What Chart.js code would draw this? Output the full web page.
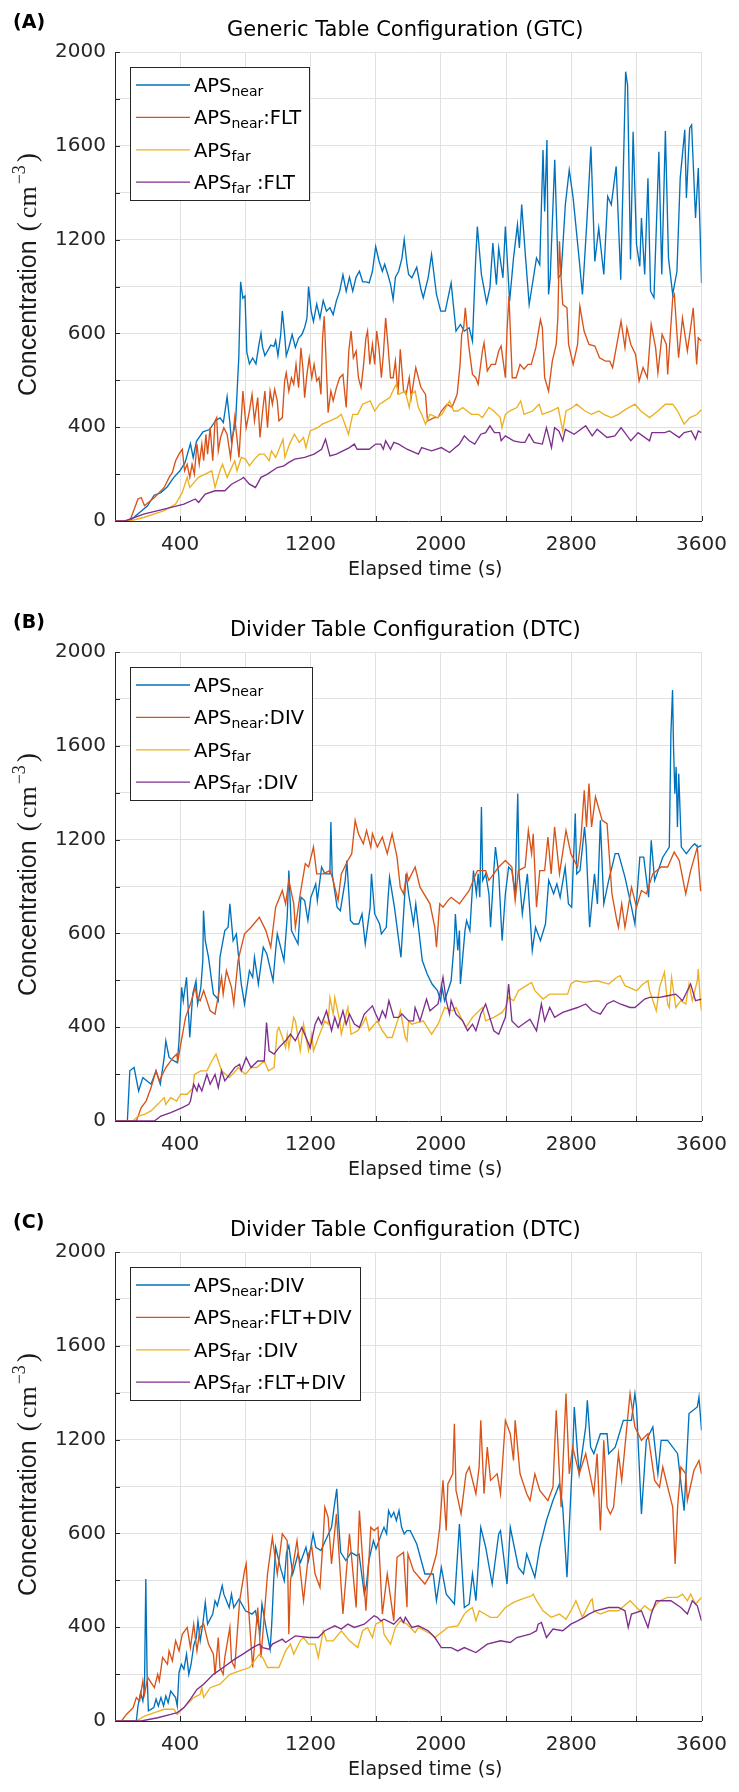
<!DOCTYPE html>
<html>
<head>
<meta charset="utf-8">
<script src="https://cdn.jsdelivr.net/npm/chart.js@4.4.1/dist/chart.umd.min.js"></script>
<style>
html,body{margin:0;padding:0;background:#ffffff;}
body{width:739px;height:1792px;overflow:hidden;}
canvas{display:block;}
</style>
</head>
<body>
<canvas id="panelA" width="739" height="600" style="width:739px;height:600px"></canvas>
<canvas id="panelB" width="739" height="600" style="width:739px;height:600px"></canvas>
<canvas id="panelC" width="739" height="592" style="width:739px;height:592px"></canvas>
<script>
// ---------- axes / labels ----------
const xTickValues = [400, 1200, 2000, 2800, 3600];
const xTickLabels = ['400', '1200', '2000', '2800', '3600'];
const yTickValues = [0, 400, 800, 1200, 1600, 2000];
const yTickLabels = ['0', '400', '600', '1200', '1600', '2000'];
const xAxisTitle = 'Elapsed time (s)';
const yAxisTitle = 'Concentration';
const yAxisUnit = ['(', 'cm', '\u22123', ')'];
const seriesColors = ['#0072BD', '#D95319', '#EDB120', '#7E2F8E'];
const panelTags = ['(A)', '(B)', '(C)'];
const panelTitles = ['Generic Table Configuration (GTC)', 'Divider Table Configuration (DTC)', 'Divider Table Configuration (DTC)'];
const legendA = ['APS_{near}', 'APS_{near}:FLT', 'APS_{far}', 'APS_{far} :FLT'];
const legendB = ['APS_{near}', 'APS_{near}:DIV', 'APS_{far}', 'APS_{far} :DIV'];
const legendC = ['APS_{near}:DIV', 'APS_{near}:FLT+DIV', 'APS_{far} :DIV', 'APS_{far} :FLT+DIV'];

// ---------- data: [elapsed time (s), concentration] ----------
// Panel A (GTC)
const aNear = [[0,0],[90,0],[140,30],[200,65],[240,110],[280,120],[320,145],[360,185],[400,215],[430,250],[463,330],[480,270],[500,340],[540,380],[580,390],[620,430],[645,440],[665,420],[688,530],[705,420],[715,340],[740,420],[760,700],[771,1020],[785,950],[798,960],[809,720],[825,670],[845,695],[865,670],[883,750],[896,800],[905,745],[920,705],[936,725],[956,750],[976,745],[986,770],[1000,705],[1017,795],[1027,895],[1041,795],[1051,705],[1067,740],[1087,795],[1107,740],[1127,780],[1147,795],[1164,825],[1178,865],[1188,1000],[1204,895],[1218,850],[1238,925],[1258,865],[1278,940],[1298,895],[1319,910],[1339,880],[1359,940],[1379,980],[1399,1050],[1419,980],[1439,1040],[1459,980],[1480,1040],[1500,1065],[1520,1020],[1540,1020],[1560,1015],[1580,1065],[1600,1170],[1620,1110],[1641,1065],[1655,1095],[1675,1050],[1691,1010],[1707,945],[1721,1040],[1741,1065],[1761,1120],[1775,1200],[1792,1095],[1802,1051],[1822,1037],[1852,1082],[1878,987],[1892,952],[1922,1037],[1943,1136],[1973,966],[1999,895],[2027,895],[2063,1015],[2093,810],[2120,838],[2144,810],[2174,824],[2194,767],[2214,1122],[2224,1256],[2249,1051],[2281,930],[2301,994],[2319,1185],[2341,1008],[2355,1164],[2381,1037],[2396,1256],[2422,937],[2446,1122],[2470,1263],[2482,1164],[2496,1349],[2520,1122],[2542,923],[2587,1122],[2607,1093],[2627,1582],[2637,1320],[2651,1625],[2661,966],[2671,1037],[2699,1540],[2721,1037],[2738,1051],[2764,1349],[2788,1497],[2812,1377],[2848,1122],[2869,966],[2895,1263],[2921,1597],[2945,1107],[2969,1249],[3000,1051],[3024,1384],[3046,1349],[3076,1512],[3104,1029],[3126,1675],[3134,1916],[3146,1859],[3164,1115],[3180,1660],[3201,1178],[3221,1086],[3231,1292],[3251,1051],[3271,1462],[3287,980],[3308,952],[3338,1575],[3356,1051],[3378,1663],[3397,1122],[3423,966],[3449,1065],[3469,1462],[3497,1668],[3507,1377],[3527,1675],[3539,1689],[3563,1292],[3580,1505],[3600,1015]];
const aNearFlt = [[0,0],[91,0],[141,94],[161,100],[181,65],[242,100],[272,122],[302,143],[332,186],[352,207],[372,257],[393,285],[413,306],[427,214],[443,242],[459,186],[473,242],[487,200],[503,328],[517,242],[533,328],[544,257],[558,370],[568,285],[584,398],[600,257],[614,427],[624,441],[634,299],[648,356],[668,398],[688,370],[709,271],[735,441],[761,271],[785,554],[805,398],[825,469],[841,540],[856,427],[876,526],[890,356],[906,469],[920,554],[936,398],[952,554],[966,498],[980,561],[996,512],[1006,427],[1027,441],[1041,597],[1051,632],[1067,554],[1083,611],[1097,583],[1111,668],[1127,569],[1141,739],[1153,654],[1164,526],[1178,625],[1192,696],[1208,611],[1222,668],[1238,597],[1252,611],[1264,540],[1274,781],[1284,873],[1294,710],[1308,462],[1325,554],[1339,512],[1359,569],[1379,611],[1399,625],[1419,484],[1435,725],[1449,810],[1463,696],[1480,725],[1494,611],[1510,569],[1524,654],[1540,781],[1550,810],[1564,668],[1580,753],[1594,668],[1606,810],[1620,739],[1635,611],[1647,710],[1661,866],[1675,753],[1691,611],[1707,611],[1721,682],[1737,540],[1751,732],[1771,554],[1787,540],[1806,611],[1818,526],[1846,654],[1878,569],[1906,540],[1918,427],[1959,441],[1983,441],[2003,469],[2039,498],[2068,484],[2100,540],[2118,668],[2128,796],[2140,824],[2150,909],[2170,753],[2194,625],[2214,611],[2229,583],[2255,725],[2265,760],[2285,640],[2309,668],[2335,668],[2355,725],[2370,746],[2396,611],[2406,810],[2418,959],[2438,611],[2462,611],[2486,668],[2510,647],[2535,668],[2555,668],[2583,739],[2611,859],[2623,824],[2637,611],[2661,554],[2684,682],[2708,753],[2718,866],[2728,1193],[2738,1037],[2748,923],[2774,909],[2784,753],[2812,668],[2839,753],[2853,916],[2879,810],[2909,753],[2945,746],[2974,696],[3010,682],[3036,682],[3054,654],[3080,753],[3106,852],[3130,739],[3142,824],[3166,753],[3195,710],[3217,597],[3241,654],[3267,611],[3291,838],[3318,739],[3332,632],[3358,796],[3384,753],[3392,625],[3423,951],[3433,966],[3459,696],[3483,866],[3513,725],[3533,824],[3549,909],[3570,668],[3580,781],[3600,767]];
const aFar = [[0,0],[91,0],[181,16],[302,44],[372,72],[413,122],[443,186],[459,143],[513,186],[554,200],[594,214],[614,143],[644,214],[660,242],[688,186],[735,257],[749,214],[775,271],[801,264],[825,235],[856,264],[886,285],[916,285],[946,257],[960,299],[986,271],[1031,349],[1043,271],[1071,328],[1101,370],[1131,335],[1157,356],[1172,313],[1198,384],[1244,398],[1272,413],[1319,427],[1363,441],[1389,455],[1433,370],[1459,455],[1490,455],[1520,498],[1566,512],[1594,469],[1624,498],[1655,512],[1687,526],[1715,569],[1727,583],[1741,540],[1781,554],[1806,484],[1818,540],[1842,554],[1862,484],[1882,455],[1906,413],[1933,455],[1979,441],[2007,455],[2053,512],[2079,469],[2104,469],[2134,484],[2188,455],[2229,455],[2255,441],[2295,484],[2325,469],[2365,441],[2375,398],[2396,455],[2422,469],[2466,484],[2490,512],[2510,455],[2563,469],[2603,498],[2623,455],[2677,469],[2720,484],[2748,384],[2768,469],[2808,484],[2833,498],[2885,469],[2925,455],[2969,469],[3000,455],[3046,441],[3090,455],[3134,476],[3191,498],[3227,469],[3281,441],[3332,469],[3378,498],[3423,498],[3453,469],[3493,413],[3529,441],[3574,455],[3600,476]];
const aFarFlt = [[0,0],[60,0],[181,30],[302,51],[423,72],[493,94],[513,79],[554,115],[614,129],[674,129],[715,157],[775,179],[789,186],[825,157],[862,143],[896,186],[936,200],[996,228],[1037,235],[1067,250],[1103,264],[1164,271],[1222,285],[1268,306],[1292,349],[1319,278],[1359,285],[1399,299],[1439,313],[1469,328],[1486,306],[1520,306],[1560,306],[1600,328],[1631,328],[1647,306],[1661,342],[1691,306],[1711,335],[1741,328],[1792,306],[1862,285],[1882,313],[1943,299],[2003,313],[2053,292],[2114,328],[2144,363],[2174,342],[2208,328],[2245,370],[2275,377],[2301,406],[2329,377],[2361,377],[2370,342],[2396,363],[2446,342],[2490,335],[2516,335],[2542,370],[2571,335],[2623,328],[2648,398],[2679,313],[2698,398],[2724,384],[2748,342],[2764,391],[2818,370],[2889,406],[2929,363],[2959,391],[3020,356],[3068,363],[3106,398],[3166,342],[3211,377],[3281,342],[3295,377],[3374,377],[3404,384],[3463,356],[3493,377],[3537,384],[3563,349],[3580,384],[3600,377]];

// Panel B (DTC)
const bNear = [[0,0],[76,0],[91,214],[117,228],[145,128],[171,185],[197,171],[221,157],[252,214],[278,157],[302,271],[312,342],[332,271],[362,256],[382,249],[393,342],[409,570],[419,513],[439,613],[459,356],[477,541],[497,598],[507,499],[527,570],[539,684],[543,897],[554,769],[574,698],[604,541],[624,527],[634,513],[644,698],[674,812],[694,826],[705,926],[725,769],[745,798],[775,584],[795,499],[825,641],[845,613],[856,698],[880,584],[910,741],[932,712],[970,598],[986,727],[996,798],[1037,684],[1057,869],[1067,1068],[1083,812],[1123,755],[1141,954],[1164,940],[1184,855],[1202,954],[1232,1011],[1242,940],[1268,1083],[1288,1054],[1319,1054],[1325,1275],[1333,1054],[1363,912],[1383,897],[1413,1026],[1423,1111],[1445,855],[1465,840],[1496,840],[1516,883],[1536,755],[1566,912],[1574,1054],[1594,883],[1624,840],[1635,798],[1665,826],[1675,940],[1685,1040],[1715,912],[1755,698],[1775,926],[1786,1054],[1802,969],[1832,840],[1846,926],[1886,684],[1916,627],[1946,584],[1979,556],[1999,513],[2007,570],[2023,513],[2063,598],[2083,769],[2089,883],[2104,727],[2114,812],[2120,584],[2148,812],[2158,855],[2178,812],[2200,1068],[2218,969],[2229,1054],[2239,954],[2249,1339],[2257,1026],[2275,1054],[2295,969],[2305,826],[2325,1068],[2335,1168],[2355,1054],[2376,769],[2396,969],[2416,1083],[2436,1068],[2456,969],[2472,1396],[2480,1054],[2500,883],[2531,1054],[2561,727],[2581,826],[2611,769],[2642,840],[2662,1026],[2692,969],[2712,1011],[2732,954],[2763,1083],[2783,926],[2803,912],[2825,1311],[2834,1054],[2854,1068],[2882,1254],[2892,1168],[2913,826],[2943,1054],[2961,926],[2979,1282],[3000,926],[3030,1026],[3070,1140],[3090,1140],[3130,1040],[3170,912],[3191,840],[3221,1125],[3245,1125],[3275,954],[3291,1197],[3312,1026],[3362,1125],[3402,1168],[3412,1652],[3422,1838],[3428,1595],[3436,1396],[3444,1510],[3452,1254],[3460,1481],[3476,1168],[3507,1140],[3537,1168],[3557,1182],[3578,1168],[3600,1175]];
const bNearDiv = [[0,0],[131,0],[161,57],[191,85],[221,142],[252,214],[272,171],[312,228],[358,271],[378,285],[386,256],[407,342],[433,442],[463,499],[493,570],[503,527],[523,513],[544,556],[584,470],[614,456],[654,613],[664,541],[684,641],[715,570],[729,499],[755,684],[795,798],[835,826],[886,869],[926,812],[956,741],[986,912],[1027,983],[1047,926],[1067,1026],[1097,926],[1107,826],[1137,969],[1168,1097],[1188,1083],[1218,1168],[1238,1054],[1278,1054],[1319,1068],[1339,1026],[1369,940],[1389,1054],[1429,1111],[1453,1140],[1474,1282],[1494,1225],[1524,1182],[1544,1239],[1570,1168],[1580,1225],[1610,1168],[1641,1211],[1671,1140],[1701,1225],[1731,1125],[1751,997],[1771,969],[1792,1054],[1802,1026],[1842,1083],[1872,997],[1933,926],[1963,826],[1973,741],[1993,926],[2013,912],[2043,940],[2063,954],[2114,926],[2174,983],[2215,1054],[2225,1068],[2275,1068],[2295,1026],[2355,1083],[2396,1111],[2436,1083],[2456,940],[2476,1068],[2517,1083],[2537,1239],[2557,1140],[2567,1225],[2587,912],[2607,1068],[2637,1068],[2657,1211],[2677,1054],[2698,1254],[2728,1054],[2768,1239],[2798,1140],[2839,1083],[2859,1197],[2880,1410],[2894,1254],[2909,1439],[2925,1254],[2949,1382],[2990,1282],[3020,1268],[3050,969],[3080,855],[3090,826],[3110,926],[3130,826],[3170,997],[3201,912],[3231,983],[3261,969],[3301,1054],[3352,1083],[3392,1083],[3432,1147],[3463,1111],[3503,969],[3533,1068],[3574,1168],[3594,983],[3600,983]];
const bFar = [[0,0],[111,0],[141,21],[181,28],[221,43],[262,71],[302,100],[312,71],[342,100],[378,85],[403,114],[443,114],[479,142],[487,199],[527,214],[564,214],[594,256],[620,285],[654,214],[701,185],[741,214],[755,228],[801,199],[835,228],[870,228],[916,256],[942,214],[976,228],[996,385],[1006,399],[1027,356],[1047,313],[1057,370],[1067,313],[1097,442],[1107,427],[1137,299],[1157,413],[1188,299],[1208,370],[1218,299],[1248,356],[1288,427],[1308,413],[1319,527],[1339,456],[1349,527],[1379,427],[1389,370],[1419,456],[1429,484],[1449,370],[1490,385],[1520,413],[1540,442],[1560,385],[1610,427],[1641,385],[1671,356],[1701,356],[1741,442],[1751,470],[1782,356],[1792,342],[1802,427],[1822,413],[1892,427],[1943,370],[1983,413],[2023,484],[2073,470],[2093,484],[2154,399],[2194,442],[2255,484],[2275,427],[2325,442],[2376,463],[2396,484],[2416,527],[2446,513],[2476,556],[2507,570],[2557,591],[2577,556],[2627,520],[2668,541],[2738,541],[2778,541],[2798,584],[2829,598],[2879,591],[2959,598],[3030,584],[3080,613],[3100,620],[3130,577],[3201,556],[3241,584],[3271,598],[3281,556],[3322,470],[3342,570],[3372,634],[3392,499],[3402,484],[3416,613],[3442,484],[3473,513],[3503,499],[3523,584],[3543,513],[3574,598],[3580,648],[3594,499],[3600,470]];
const bFarDiv = [[0,0],[242,0],[282,21],[342,36],[413,57],[453,71],[463,85],[483,157],[503,128],[513,157],[533,128],[564,199],[584,157],[614,199],[634,142],[654,214],[674,171],[735,228],[765,242],[775,214],[805,271],[835,228],[876,256],[916,256],[930,420],[946,299],[976,285],[1006,313],[1047,342],[1077,370],[1107,342],[1147,399],[1198,313],[1228,413],[1248,442],[1268,413],[1298,470],[1329,385],[1349,442],[1369,399],[1399,470],[1419,413],[1439,456],[1469,413],[1500,399],[1530,456],[1580,491],[1600,456],[1620,427],[1641,470],[1661,442],[1681,513],[1711,442],[1741,442],[1761,456],[1802,427],[1832,427],[1842,484],[1872,427],[1912,520],[1933,470],[1983,499],[2013,613],[2033,513],[2053,456],[2063,513],[2093,456],[2134,427],[2164,385],[2194,413],[2215,385],[2245,456],[2275,499],[2325,385],[2355,370],[2396,442],[2416,584],[2436,427],[2476,399],[2547,434],[2587,385],[2617,499],[2637,427],[2668,484],[2698,442],[2748,463],[2839,484],[2889,499],[2929,470],[2979,456],[3020,499],[3060,513],[3100,499],[3161,484],[3191,484],[3251,520],[3281,527],[3342,527],[3392,534],[3442,541],[3483,513],[3533,584],[3563,513],[3600,520]];

// Panel C (DTC)
const cNearDiv = [[0,0],[131,0],[141,64],[157,121],[171,85],[181,142],[189,605],[197,199],[205,43],[238,57],[252,93],[266,64],[282,100],[298,64],[312,107],[326,78],[342,128],[372,100],[382,64],[393,207],[407,242],[423,221],[439,285],[453,199],[467,242],[483,321],[499,356],[509,427],[523,342],[539,413],[554,506],[568,413],[600,456],[614,513],[628,491],[658,577],[668,541],[701,484],[715,541],[729,484],[761,520],[801,470],[841,456],[862,470],[890,377],[902,499],[930,385],[952,306],[962,413],[974,598],[986,741],[1015,655],[1039,598],[1053,719],[1067,748],[1091,627],[1123,712],[1139,677],[1172,741],[1188,684],[1216,798],[1232,741],[1264,727],[1296,776],[1329,826],[1345,912],[1361,990],[1373,840],[1385,719],[1417,684],[1449,719],[1482,705],[1498,712],[1514,627],[1530,541],[1544,584],[1558,684],[1586,769],[1602,734],[1635,798],[1651,826],[1667,798],[1679,897],[1695,869],[1711,890],[1727,855],[1743,897],[1759,826],[1775,798],[1792,812],[1812,812],[1852,755],[1902,627],[1953,627],[1973,513],[2003,655],[2033,541],[2083,499],[2114,840],[2144,484],[2174,499],[2194,627],[2215,513],[2245,826],[2275,741],[2315,584],[2355,798],[2366,812],[2406,584],[2426,826],[2476,655],[2507,627],[2527,712],[2577,613],[2607,741],[2648,855],[2688,940],[2728,1011],[2748,912],[2774,613],[2788,826],[2809,1140],[2819,1339],[2839,1140],[2849,1054],[2889,1254],[2899,1368],[2919,1168],[2939,1140],[2979,1225],[3020,1225],[3030,1140],[3070,1168],[3120,1282],[3170,1282],[3191,1396],[3201,1339],[3231,883],[3261,1197],[3301,1254],[3332,1054],[3352,1197],[3392,1197],[3453,1140],[3493,897],[3523,1311],[3574,1339],[3584,1382],[3600,1239]];
const cNearFltDiv = [[0,0],[40,0],[70,28],[111,57],[131,100],[151,85],[171,171],[181,114],[201,185],[242,142],[262,199],[272,171],[292,271],[322,242],[332,299],[352,256],[372,342],[393,299],[413,370],[443,399],[463,313],[483,413],[503,299],[523,399],[544,413],[574,328],[604,285],[614,199],[634,356],[644,228],[664,199],[674,271],[705,399],[715,256],[735,228],[765,513],[795,641],[805,670],[825,427],[845,228],[876,484],[896,271],[936,627],[966,783],[996,627],[1027,798],[1057,769],[1067,370],[1077,598],[1117,769],[1157,513],[1188,712],[1208,741],[1228,627],[1258,570],[1278,783],[1288,912],[1308,869],[1329,670],[1359,883],[1399,456],[1439,798],[1480,484],[1500,897],[1540,470],[1570,826],[1590,812],[1614,826],[1641,456],[1671,627],[1711,427],[1731,698],[1771,719],[1792,485],[1798,712],[1832,641],[1902,584],[1939,627],[1973,712],[1993,826],[2013,1026],[2033,812],[2043,1011],[2073,1054],[2083,1268],[2093,983],[2124,883],[2154,1054],[2174,1083],[2215,969],[2235,1083],[2245,1282],[2265,969],[2285,1168],[2305,1026],[2346,1054],[2366,969],[2396,1282],[2426,1225],[2446,1111],[2456,1282],[2486,1054],[2527,969],[2547,940],[2577,1054],[2607,983],[2657,940],[2688,997],[2708,1325],[2738,912],[2768,1396],[2788,1054],[2809,1168],[2849,1054],[2889,1140],[2939,969],[2959,1140],[2979,812],[3000,1197],[3020,912],[3040,883],[3060,912],[3090,1140],[3110,1026],[3161,1396],[3191,1254],[3231,1197],[3271,1225],[3312,1026],[3342,997],[3362,1083],[3392,997],[3423,912],[3438,670],[3453,912],[3473,1083],[3503,1054],[3513,940],[3553,1068],[3584,1111],[3600,1054]];
const cFarDiv = [[0,0],[131,0],[181,21],[242,36],[302,50],[362,50],[382,28],[423,57],[483,100],[523,114],[533,142],[544,100],[584,142],[644,157],[705,199],[765,214],[825,228],[886,285],[906,271],[936,228],[966,228],[1006,228],[1047,299],[1077,328],[1097,285],[1137,342],[1157,356],[1188,328],[1228,328],[1248,271],[1278,385],[1298,342],[1339,342],[1389,385],[1439,342],[1490,313],[1520,385],[1550,399],[1580,356],[1600,413],[1641,427],[1651,370],[1691,328],[1721,399],[1751,427],[1792,413],[1842,377],[1862,399],[1943,370],[1963,356],[2043,399],[2104,406],[2144,456],[2164,470],[2194,484],[2215,427],[2235,470],[2305,442],[2346,442],[2396,484],[2446,506],[2496,520],[2557,534],[2567,541],[2587,513],[2627,470],[2677,442],[2728,456],[2768,434],[2809,484],[2829,513],[2869,442],[2919,513],[2929,520],[2939,470],[2979,456],[3030,470],[3090,470],[3161,513],[3221,470],[3251,491],[3291,470],[3342,513],[3392,527],[3453,527],[3483,541],[3513,513],[3533,541],[3563,499],[3600,527]];
const cFarFltDiv = [[0,0],[161,0],[262,14],[342,28],[382,36],[423,57],[463,93],[503,135],[544,157],[604,199],[664,228],[735,264],[785,285],[845,313],[886,328],[906,313],[946,306],[966,328],[1027,349],[1047,335],[1107,363],[1188,356],[1248,356],[1288,385],[1349,406],[1389,392],[1429,413],[1469,399],[1530,413],[1590,449],[1610,442],[1631,427],[1651,434],[1711,413],[1751,442],[1771,420],[1782,442],[1822,399],[1862,406],[1922,385],[1963,356],[2003,313],[2063,313],[2104,299],[2144,313],[2215,292],[2285,328],[2366,342],[2426,335],[2466,356],[2547,370],[2587,385],[2597,413],[2617,420],[2648,356],[2688,392],[2748,385],[2798,413],[2839,427],[2879,442],[2909,456],[2949,470],[3030,484],[3090,484],[3130,470],[3150,399],[3170,456],[3231,470],[3271,399],[3291,456],[3322,513],[3372,513],[3412,513],[3473,484],[3513,456],[3543,513],[3574,491],[3600,427]];

// ---------- drawing helpers ----------
const SANS = '"DejaVu Sans"';
const LEG_MAIN = '19.5px ' + SANS;
const LEG_SUB = '14px ' + SANS;
function richParts(label) {
  const parts = []; const re = /_\{([^}]*)\}/g; let last = 0, m;
  while ((m = re.exec(label))) {
    if (m.index > last) parts.push({ t: label.slice(last, m.index), sub: false });
    parts.push({ t: m[1], sub: true }); last = re.lastIndex;
  }
  if (last < label.length) parts.push({ t: label.slice(last), sub: false });
  return parts;
}
function richWidth(ctx, label) {
  let w = 0;
  for (const p of richParts(label)) { ctx.font = p.sub ? LEG_SUB : LEG_MAIN; w += ctx.measureText(p.t).width; }
  return w;
}
function drawRich(ctx, label, x, y) {
  for (const p of richParts(label)) {
    ctx.font = p.sub ? LEG_SUB : LEG_MAIN;
    ctx.fillText(p.t, x, p.sub ? y + 4 : y);
    x += ctx.measureText(p.t).width;
  }
}

const panelDecor = {
  id: 'panelDecor',
  beforeDatasetsDraw(chart) {
    const { ctx, chartArea: ca, scales: { x, y } } = chart;
    ctx.save();
    ctx.strokeStyle = '#262626'; ctx.lineWidth = 1; ctx.beginPath();
    y.ticks.forEach(t => { const py = Math.round(y.getPixelForValue(t.value)) + 0.5; ctx.moveTo(ca.left, py); ctx.lineTo(ca.left + 5, py); });
    x.ticks.forEach(t => { const px = Math.round(x.getPixelForValue(t.value)) + 0.5; ctx.moveTo(px, ca.bottom); ctx.lineTo(px, ca.bottom - 5); });
    ctx.stroke(); ctx.restore();
  },
  afterDraw(chart, args, o) {
    const { ctx, chartArea: ca } = chart;
    ctx.save();
    ctx.fillStyle = '#000000';
    // panel tag
    ctx.textAlign = 'left'; ctx.textBaseline = 'alphabetic';
    ctx.font = 'bold 19px ' + SANS;
    ctx.fillText(o.tag, 13, 28);
    // title
    ctx.textAlign = 'center';
    ctx.font = '21px ' + SANS;
    ctx.fillText(o.title, (ca.left + ca.right) / 2 - 3, 36);
    // x axis title
    ctx.font = '19px ' + SANS; ctx.textBaseline = 'middle';
    ctx.fillStyle = '#1a1a1a';
    ctx.fillText(xAxisTitle, (ca.left + ca.right) / 2 + 17, ca.bottom + 49);
    // y axis title (rotated)
    const pieces = [
      { t: yAxisTitle, f: '25px "Liberation Sans"', dy: 0, gap: 9 },
      { t: yAxisUnit[0], f: '28px "Liberation Serif"', dy: 0, gap: 4 },
      { t: yAxisUnit[1], f: '26px "Liberation Serif"', dy: 0, gap: 2 },
      { t: yAxisUnit[2], f: '18px "Liberation Serif"', dy: -11, gap: 3 },
      { t: yAxisUnit[3], f: '28px "Liberation Serif"', dy: 0, gap: 0 }
    ];
    let total = 0;
    pieces.forEach(p => { ctx.font = p.f; p.w = ctx.measureText(p.t).width; total += p.w + p.gap; });
    const cy = (ca.top + ca.bottom) / 2 - 12;
    ctx.translate(36, cy); ctx.rotate(-Math.PI / 2);
    ctx.textAlign = 'left'; ctx.textBaseline = 'alphabetic';
    let px = -total / 2;
    pieces.forEach(p => { ctx.font = p.f; ctx.fillText(p.t, px, p.dy); px += p.w + p.gap; });
    ctx.setTransform(1, 0, 0, 1, 0, 0);
    // legend
    const labels = o.legend;
    const left = ca.left + 15, top = ca.top + 15;
    let maxW = 0; labels.forEach(l => { maxW = Math.max(maxW, richWidth(ctx, l)); });
    const boxW = Math.round(64 + maxW + 8), boxH = 133;
    ctx.fillStyle = '#ffffff';
    ctx.fillRect(left, top, boxW, boxH);
    ctx.strokeStyle = '#262626'; ctx.lineWidth = 1;
    ctx.strokeRect(left + 0.5, top + 0.5, boxW, boxH);
    ctx.textBaseline = 'alphabetic'; ctx.textAlign = 'left';
    labels.forEach((l, i) => {
      const ry = top + 18 + i * 32.4;
      ctx.strokeStyle = seriesColors[i]; ctx.lineWidth = 1.3;
      ctx.beginPath(); ctx.moveTo(left + 6, ry); ctx.lineTo(left + 60, ry); ctx.stroke();
      ctx.fillStyle = '#000000';
      drawRich(ctx, l, left + 64, ry + 7);
    });
    ctx.restore();
  }
};

function makeChart(id, tag, title, legend, series) {
  const datasets = series.map((s, i) => ({
    label: legend[i],
    data: s.map(p => ({ x: p[0], y: p[1] })),
    borderColor: seriesColors[i],
    borderWidth: 1.35,
    pointRadius: 0,
    tension: 0,
    fill: false,
    order: 3 - i
  }));
  const tickFont = { family: SANS, size: 20 };
  return new Chart(document.getElementById(id), {
    type: 'line',
    data: { datasets },
    options: {
      responsive: false, animation: false, devicePixelRatio: 1,
      layout: { padding: { left: 0, top: 52, right: 28, bottom: 0 } },
      plugins: { legend: { display: false }, tooltip: { enabled: false }, panelDecor: { tag, title, legend } },
      scales: {
        x: {
          type: 'linear', min: 0, max: 3600,
          afterFit(s) { s.height = s.chart.height - 521; },
          ticks: { stepSize: 400, autoSkip: false, maxRotation: 0, padding: 12, color: '#262626', font: tickFont,
            callback(v) { const i = xTickValues.indexOf(v); return i >= 0 ? xTickLabels[i] : ''; } },
          grid: { color: '#e1e1e1', lineWidth: 1, drawTicks: false },
          border: { display: true, color: '#262626', width: 1 }
        },
        y: {
          type: 'linear', min: 0, max: 2000,
          afterFit(s) { s.width = 115; },
          ticks: { stepSize: 200, autoSkip: false, padding: 9, color: '#262626', font: tickFont,
            callback(v) { const i = yTickValues.indexOf(v); return i >= 0 ? yTickLabels[i] : ''; } },
          grid: { color: '#e1e1e1', lineWidth: 1, drawTicks: false },
          border: { display: true, color: '#262626', width: 1 }
        }
      }
    },
    plugins: [panelDecor]
  });
}

makeChart('panelA', panelTags[0], panelTitles[0], legendA, [aNear, aNearFlt, aFar, aFarFlt]);
makeChart('panelB', panelTags[1], panelTitles[1], legendB, [bNear, bNearDiv, bFar, bFarDiv]);
makeChart('panelC', panelTags[2], panelTitles[2], legendC, [cNearDiv, cNearFltDiv, cFarDiv, cFarFltDiv]);
</script>
</body>
</html>
